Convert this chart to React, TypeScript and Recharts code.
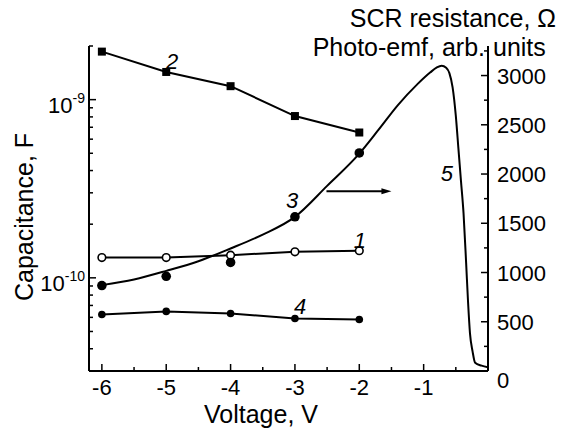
import React from 'react';
import { ComposedChart, Line, XAxis, YAxis, ReferenceLine, ReferenceDot } from 'recharts';

const FONT = '"Liberation Sans", Arial, Helvetica, sans-serif';

// Capacitance curves (left, log axis)
const voltage = [-6, -5, -4, -3, -2];
const cap1 = [1.3e-10, 1.3e-10, 1.34e-10, 1.4e-10, 1.42e-10];
const cap2 = [1.86e-9, 1.43e-9, 1.19e-9, 8.09e-10, 6.54e-10];
const cap3 = [9.05e-11, 1.02e-10, 1.22e-10, 2.2e-10, 5.02e-10];
const cap4 = [6.23e-11, 6.48e-11, 6.31e-11, 5.91e-11, 5.84e-11];

// Curve 5 (right axis)
const curveVoltage = [-6, -5.5, -5, -4.5, -4, -3.5, -3, -2.5, -2, -1.7, -1.4, -1.1, -0.9, -0.8, -0.72, -0.65, -0.6, -0.55, -0.5, -0.46, -0.42, -0.38, -0.34, -0.31, -0.28, -0.24, -0.2, -0.1, 0];
const curveValue = [872, 930, 1017, 1115, 1244, 1385, 1565, 1880, 2207, 2450, 2700, 2910, 3030, 3080, 3100, 3080, 3025, 2880, 2590, 2260, 1930, 1600, 1100, 700, 382, 200, 84, 54, 37];

// Ticks
const xTicks = [-6, -5.5, -5, -4.5, -4, -3.5, -3, -2.5, -2, -1.5, -1, -0.5];
const leftTicks = [3e-11, 4e-11, 5e-11, 6e-11, 7e-11, 8e-11, 9e-11, 1e-10, 2e-10, 3e-10, 4e-10, 5e-10, 6e-10, 7e-10, 8e-10, 9e-10, 1e-9, 2e-9];
const rightTicks = [0, 250, 500, 750, 1000, 1250, 1500, 1750, 2000, 2250, 2500, 2750, 3000, 3250];

// Curve number labels
const labelText = ['1', '2', '3', '4', '5'];
const labelX = [-1.99, -4.91, -3.045, -2.92, -0.64];
const labelY = [1.63e-10, 1.64e-9, 2.74e-10, 6.98e-11, 2008];
const labelAxis = ['left', 'left', 'left', 'left', 'right'];

// Arrow (points to right axis)
const arrowX = [-2.51, -1.5];
const arrowY = 1825;

const rows = (ys: number[]) => voltage.map((x, i) => ({ x, y: ys[i] }));
const curveRows = curveVoltage.map((x, i) => ({ x, y: curveValue[i] }));

const XTick = (props: any) => {
  const { x, y, payload } = props;
  const v = payload.value;
  const major = Number.isInteger(v);
  return (
    <g>
      <line x1={x} x2={x} y1={y} y2={y - (major ? 7 : 4)} stroke="#000" strokeWidth={1.5} />
      {major && (
        <text x={x} y={y + 24} textAnchor="middle" fontSize={22} fontFamily={FONT} fill="#000">
          {String(v)}
        </text>
      )}
    </g>
  );
};

const LeftTick = (props: any) => {
  const { x, y, payload } = props;
  const v = payload.value;
  const lg = Math.log10(v);
  const major = Math.abs(lg - Math.round(lg)) < 1e-6;
  return (
    <g>
      <line x1={x} x2={x + (major ? 7 : 4)} y1={y} y2={y} stroke="#000" strokeWidth={1.5} />
      {major && (
        <text x={x - 4} y={y + 13} textAnchor="end" fontSize={22} fontFamily={FONT} fill="#000">
          10
          <tspan dy={-10} fontSize={14}>{String(Math.round(lg))}</tspan>
        </text>
      )}
    </g>
  );
};

const RightTick = (props: any) => {
  const { x, y, payload } = props;
  const v = payload.value;
  const major = v % 500 === 0;
  return (
    <g>
      <line x1={x} x2={x - (major ? 7 : 4)} y1={y} y2={y} stroke="#000" strokeWidth={1.5} />
      {major && (
        <text x={x + 9} y={y + (v === 0 ? 17 : 8)} textAnchor="start" fontSize={22} fontFamily={FONT} fill="#000">
          {String(v)}
        </text>
      )}
    </g>
  );
};

const squareDot = (props: any) => {
  const { cx, cy, index } = props;
  if (cx == null || cy == null) return <g key={index} />;
  return <rect key={index} x={cx - 4} y={cy - 4} width={8} height={8} fill="#000" />;
};
const openDot = (props: any) => {
  const { cx, cy, index } = props;
  if (cx == null || cy == null) return <g key={index} />;
  return <circle key={index} cx={cx} cy={cy} r={3.8} fill="#fff" stroke="#000" strokeWidth={1.6} />;
};
const bigDot = (props: any) => {
  const { cx, cy, index } = props;
  if (cx == null || cy == null) return <g key={index} />;
  return <circle key={index} cx={cx} cy={cy} r={4.8} fill="#000" />;
};
const smallDot = (props: any) => {
  const { cx, cy, index } = props;
  if (cx == null || cy == null) return <g key={index} />;
  return <circle key={index} cx={cx} cy={cy} r={3.8} fill="#000" />;
};

const ArrowShape = (props: any) => {
  const { x1, y1, x2, y2 } = props;
  return (
    <g>
      <line x1={x1} y1={y1} x2={x2 - 6} y2={y2} stroke="#000" strokeWidth={2} />
      <path d={`M${x2},${y2} L${x2 - 10},${y2 - 3} L${x2 - 10},${y2 + 3} Z`} fill="#000" />
    </g>
  );
};

export default function App() {
  return (
    <div style={{ position: 'absolute', left: 0, top: 0, width: 563, height: 437, background: '#fff', fontFamily: FONT }}>
      <ComposedChart width={563} height={437} margin={{ top: 46, right: 0, bottom: 0, left: 0 }}>
        <XAxis
          type="number"
          dataKey="x"
          domain={[-6.2, 0]}
          allowDataOverflow
          ticks={xTicks}
          interval={0}
          tickSize={0}
          tickMargin={0}
          tick={<XTick />}
          tickLine={false}
          height={66}
          axisLine={{ stroke: '#000', strokeWidth: 2 }}
          label={{
            value: 'Voltage, V',
            content: () => (
              <text x={261} y={423} textAnchor="middle" fontSize={25} fontFamily={FONT} fill="#000">
                Voltage, V
              </text>
            ),
          }}
        />
        <YAxis
          yAxisId="left"
          orientation="left"
          type="number"
          scale="log"
          domain={[3e-11, 2e-9]}
          allowDataOverflow
          ticks={leftTicks}
          interval={0}
          tickSize={0}
          tickMargin={0}
          tick={<LeftTick />}
          tickLine={false}
          width={89}
          axisLine={{ stroke: '#000', strokeWidth: 2 }}
          label={{
            value: 'Capacitance, F',
            content: () => (
              <text transform="translate(33,217) rotate(-90)" x={0} y={0} textAnchor="middle" fontSize={25} fontFamily={FONT} fill="#000">
                Capacitance, F
              </text>
            ),
          }}
        />
        <YAxis
          yAxisId="right"
          orientation="right"
          type="number"
          domain={[0, 3300]}
          allowDataOverflow
          ticks={rightTicks}
          interval={0}
          tickSize={0}
          tickMargin={0}
          tick={<RightTick />}
          tickLine={false}
          width={75}
          axisLine={{ stroke: '#000', strokeWidth: 2 }}
          label={{
            value: 'SCR resistance',
            content: () => (
              <g>
                <text x={556} y={27} textAnchor="end" fontSize={25} fontFamily={FONT} fill="#000">
                  SCR resistance, Ω
                </text>
                <text x={485} y={56} textAnchor="end" fontSize={25} fontFamily={FONT} fill="#000">
                  Photo-emf, arb.
                </text>
                <text x={493} y={56} textAnchor="start" fontSize={25} fontFamily={FONT} fill="#000">
                  units
                </text>
              </g>
            ),
          }}
        />
        <Line yAxisId="right" data={curveRows} dataKey="y" type="monotone" stroke="#000" strokeWidth={2} dot={false} activeDot={false} isAnimationActive={false} />
        <Line yAxisId="left" data={rows(cap2)} dataKey="y" type="linear" stroke="#000" strokeWidth={2} dot={squareDot} activeDot={false} isAnimationActive={false} />
        <Line yAxisId="left" data={rows(cap1)} dataKey="y" type="linear" stroke="#000" strokeWidth={2} dot={openDot} activeDot={false} isAnimationActive={false} />
        <Line yAxisId="left" data={rows(cap3)} dataKey="y" type="linear" stroke="none" dot={bigDot} activeDot={false} isAnimationActive={false} />
        <Line yAxisId="left" data={rows(cap4)} dataKey="y" type="linear" stroke="#000" strokeWidth={2} dot={smallDot} activeDot={false} isAnimationActive={false} />
        <ReferenceLine
          yAxisId="right"
          segment={[{ x: arrowX[0], y: arrowY }, { x: arrowX[1], y: arrowY }]}
          shape={<ArrowShape />}
        />
        {labelText.map((t, i) => (
          <ReferenceDot
            key={t}
            yAxisId={labelAxis[i]}
            x={labelX[i]}
            y={labelY[i]}
            r={1}
            shape={(p: any) => (
              <text x={p.cx} y={p.cy + 8} textAnchor="middle" fontSize={22} fontStyle="italic" fontFamily={FONT} fill="#000">
                {t}
              </text>
            )}
          />
        ))}
      </ComposedChart>
    </div>
  );
}
